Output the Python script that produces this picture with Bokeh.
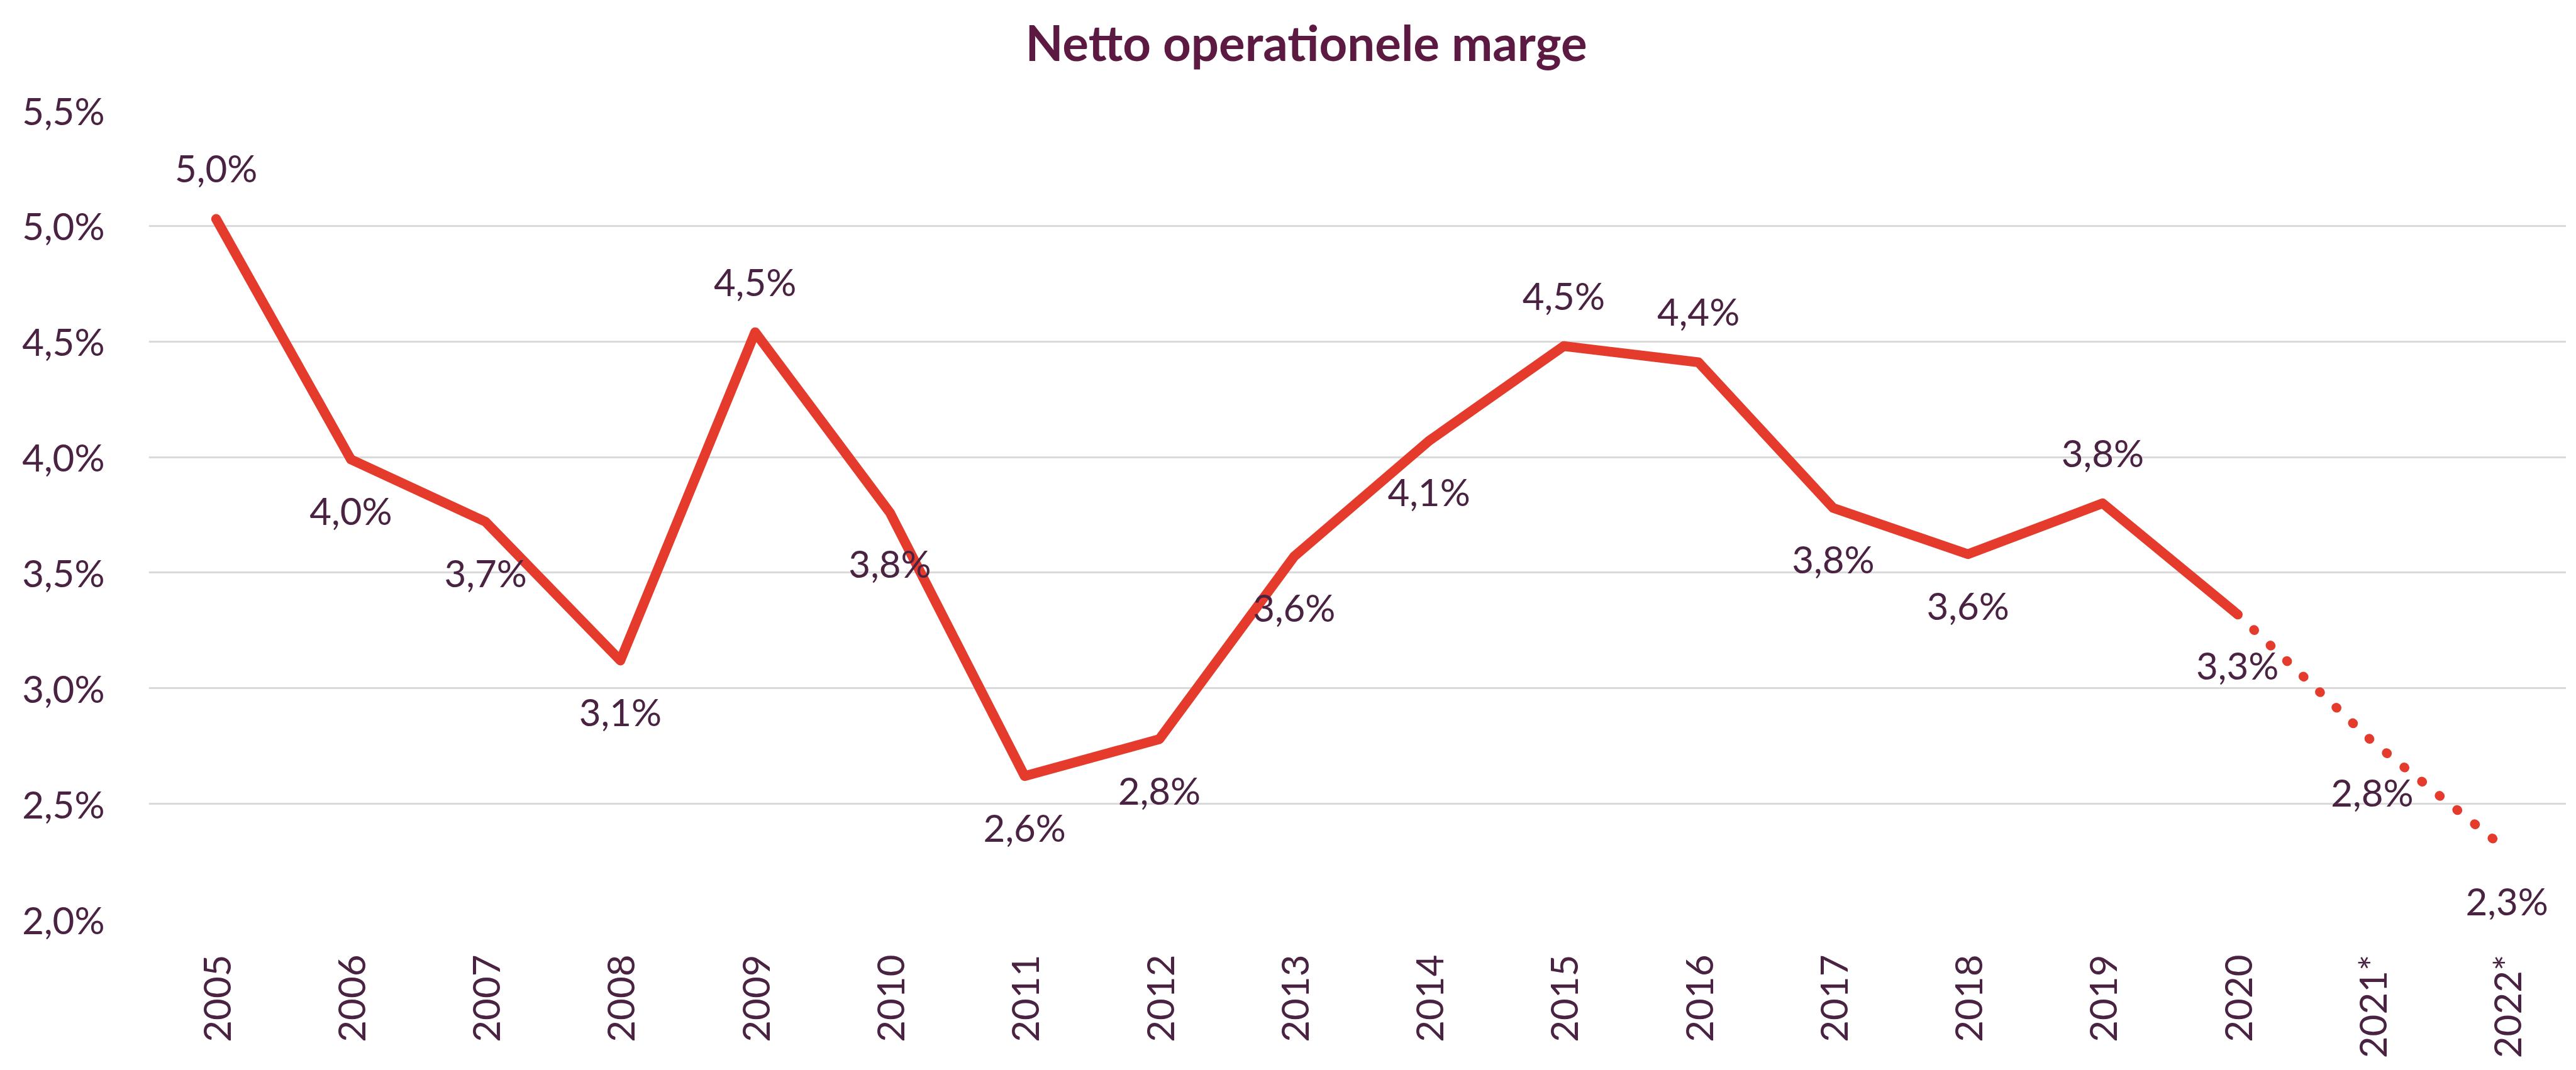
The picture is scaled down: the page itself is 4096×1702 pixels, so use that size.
import math
from bokeh.plotting import figure
from bokeh.models import Range1d, FixedTicker, ColumnDataSource, LinearAxis
from bokeh.core.properties import value
from bokeh.embed import file_html
from bokeh.resources import INLINE

# ---- data ----
years = ["2005", "2006", "2007", "2008", "2009", "2010", "2011", "2012", "2013",
         "2014", "2015", "2016", "2017", "2018", "2019", "2020", "2021*", "2022*"]
margin = [5.03, 3.99, 3.72, 3.12, 4.54, 3.76, 2.62, 2.78, 3.57,
          4.07, 4.48, 4.41, 3.78, 3.58, 3.80, 3.32, 2.77, 2.30]
label_pos = ["above", "below", "below", "below", "above", "below", "below", "below", "below",
             "below", "above", "above", "below", "below", "above", "below", "below", "below"]
y_ticks = [2.0, 2.5, 3.0, 3.5, 4.0, 4.5, 5.0, 5.5]
y_tick_labels = ["2,0%", "2,5%", "3,0%", "3,5%", "4,0%", "4,5%", "5,0%", "5,5%"]
n_actual = 16  # 2005..2020 solid, then forecast dotted
title_text = "Netto operationele marge"

# ---- styles ----
FONT = "Lato"
TXT = "#4A2342"
TITLE_C = "#5C1A42"
RED = "#E53B2C"
GRID = "#DADADA"

W, H = 4080, 1686
p = figure(width=W, height=H, output_backend="svg", toolbar_location=None,
           x_range=Range1d(-0.5, 17.44), y_range=Range1d(2.0, 5.5),
           min_border_left=236, min_border_right=0, min_border_top=175,
           min_border_bottom=224)
p.outline_line_color = None
p.background_fill_color = "white"
p.border_fill_color = "white"

xs = list(range(len(years)))

# solid line
p.line(xs[:n_actual], margin[:n_actual], line_color=RED, line_width=15.5,
       line_cap="round", line_join="round")
# dotted forecast
p.line(xs[n_actual - 1:], margin[n_actual - 1:], line_color=RED, line_width=15,
       line_cap="round", line_join="round", line_dash="1 35")

# data labels
labels = [f"{v:.1f}".replace(".", ",") + "%" for v in margin]
offs = [-81 if pos == "above" else 81 for pos in label_pos]
src = ColumnDataSource(dict(x=xs, y=margin, t=labels, off=offs))
p.text(x="x", y="y", text="t", y_offset="off", source=src,
       text_font=value(FONT), text_font_size="60px", text_color=TXT,
       text_align="center", text_baseline="middle")

# axes
p.xaxis.ticker = FixedTicker(ticks=xs)
p.xaxis.major_label_overrides = {i: y for i, y in enumerate(years)}
p.xaxis.major_label_orientation = math.pi / 2
p.yaxis.ticker = FixedTicker(ticks=y_ticks)
p.yaxis.major_label_overrides = {t: l for t, l in zip(y_ticks, y_tick_labels)}
for ax in (p.xaxis, p.yaxis):
    ax.axis_line_color = None
    ax.major_tick_line_color = None
    ax.minor_tick_line_color = None
    ax.major_tick_out = 0
    ax.major_tick_in = 0
    ax.major_label_text_font = FONT
    ax.major_label_text_font_size = "60px"
    ax.major_label_text_color = TXT
p.xaxis.major_label_standoff = 56
p.yaxis.major_label_standoff = 70

p.xgrid.grid_line_color = None
p.ygrid.grid_line_color = GRID
p.ygrid.grid_line_width = 3

# title, drawn as a one-label axis above the frame
title_x = 8.09
tax = LinearAxis(ticker=FixedTicker(ticks=[title_x]),
                 major_label_overrides={title_x: title_text})
tax.axis_line_color = None
tax.major_tick_line_color = None
tax.minor_tick_line_color = None
tax.major_tick_out = 0
tax.major_tick_in = 0
tax.major_label_standoff = 62
tax.major_label_text_font = FONT
tax.major_label_text_font_style = "bold"
tax.major_label_text_font_size = "78px"
tax.major_label_text_color = TITLE_C
p.add_layout(tax, "above")

open("out.html", "w").write(file_html(p, INLINE))
